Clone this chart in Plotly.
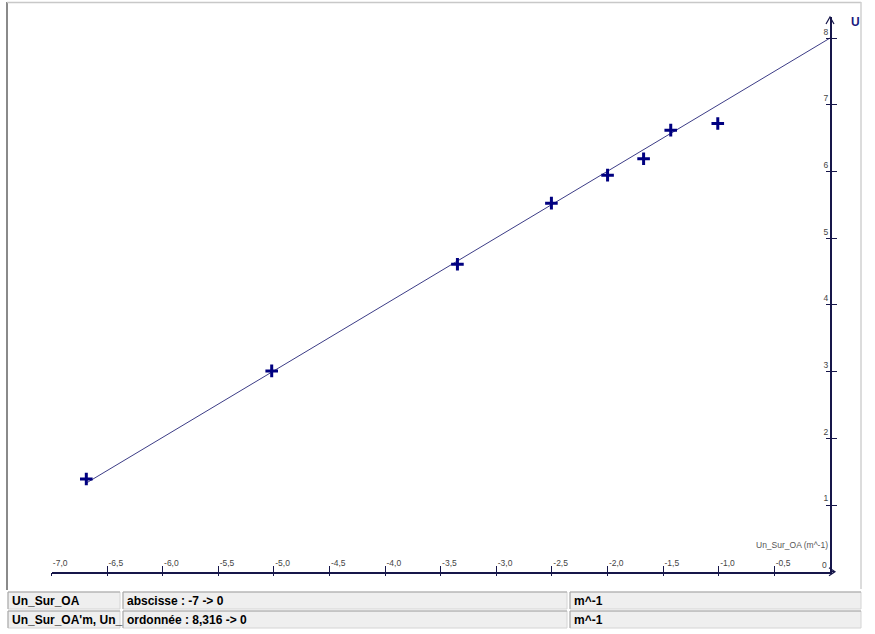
import plotly.graph_objects as go

# ---- data ----
x_vals = [-6.687, -5.02, -3.35, -2.505, -2.0, -1.676, -1.432, -1.009]
y_vals = [1.39, 3.01, 4.61, 5.525, 5.945, 6.19, 6.62, 6.72]
fit_slope = 0.9976
fit_intercept = 8.0
fit_x_end = 0.0

x_tick_vals = [-7.0, -6.5, -6.0, -5.5, -5.0, -4.5, -4.0, -3.5, -3.0, -2.5, -2.0, -1.5, -1.0, -0.5]
x_tick_text = ["-7,0", "-6,5", "-6,0", "-5,5", "-5,0", "-4,5", "-4,0", "-3,5", "-3,0", "-2,5", "-2,0", "-1,5", "-1,0", "-0,5"]
y_tick_vals = [0, 1, 2, 3, 4, 5, 6, 7, 8]
y_tick_text = ["0", "1", "2", "3", "4", "5", "6", "7", "8"]

x_range = [-7, 0]
y_range = [0, 8.316]

table_rows = [
    ["Un_Sur_OA", "abscisse : -7 -> 0", "m^-1"],
    ["Un_Sur_OA'm, Un_", "ordonnée : 8,316 -> 0", "m^-1"],
]

W, H = 875, 634
def px(x):
    return x / W
def py(y):
    return 1 - y / H

AXIS = "#16164a"
NAVY = "#000080"
FONT = "Liberation Sans, Arial, sans-serif"

fit_x = [min(x_vals), fit_x_end]
fit_y = [fit_intercept + fit_slope * v for v in fit_x]

fig = go.Figure()
fig.add_trace(go.Scatter(x=fit_x, y=fit_y, mode="lines",
                         line=dict(color="#3c3c86", width=1), hoverinfo="skip", showlegend=False))
fig.add_trace(go.Scatter(x=x_vals, y=y_vals, mode="markers",
                         marker=dict(symbol="cross-thin", size=9, line=dict(color=NAVY, width=3), color=NAVY),
                         showlegend=False))
# invisible trace to activate the secondary (tick-only) axes
fig.add_trace(go.Scatter(x=[None], y=[None], xaxis="x2", yaxis="y2", showlegend=False, hoverinfo="skip"))

X_LEFT, X_RIGHT = 51.5, 830
Y_BOTTOM, Y_TOP = 571.7, 17
xdom = [px(X_LEFT), px(X_RIGHT)]
ydom = [py(Y_BOTTOM), py(Y_TOP)]

fig.update_layout(
    width=W, height=H, margin=dict(l=0, r=0, t=0, b=0),
    paper_bgcolor="white", plot_bgcolor="white",
    font=dict(family=FONT),
    xaxis=dict(domain=xdom, range=x_range, showgrid=False, zeroline=False,
               showline=True, linecolor=AXIS, linewidth=1.5,
               tickmode="array", tickvals=x_tick_vals, ticktext=x_tick_text,
               ticks="inside", ticklen=6, tickwidth=1.2, tickcolor=AXIS,
               ticklabelposition="inside right",
               tickfont=dict(size=8.5, color="#444444", family=FONT),
               anchor="y", fixedrange=True),
    yaxis=dict(domain=ydom, range=y_range, side="right", showgrid=False, zeroline=False,
               showline=True, linecolor=AXIS, linewidth=1.5,
               tickmode="array", tickvals=y_tick_vals[1:], ticktext=y_tick_text[1:],
               ticks="outside", ticklen=5, tickwidth=1.2, tickcolor=AXIS,
               ticklabelposition="inside top",
               tickfont=dict(size=8.5, color="#444444", family=FONT),
               anchor="x", fixedrange=True),
    xaxis2=dict(domain=xdom, range=x_range, overlaying="x", anchor="y2", showgrid=False,
                zeroline=False, showline=False, showticklabels=False,
                tickmode="array", tickvals=x_tick_vals, ticks="outside", ticklen=3,
                tickwidth=1.2, tickcolor=AXIS, fixedrange=True),
    yaxis2=dict(domain=ydom, range=y_range, overlaying="y", anchor="x2", side="right",
                showgrid=False, zeroline=False, showline=False, showticklabels=False,
                tickmode="array", tickvals=y_tick_vals[1:], ticks="inside", ticklen=4,
                tickwidth=1.2, tickcolor=AXIS, fixedrange=True),
    showlegend=False,
)

shapes = []
# axis arrow heads (pixel-sized, anchored on axis ends, paper refs so not clipped)
shapes.append(dict(type="path", xref="paper", yref="paper", xsizemode="pixel", ysizemode="pixel",
                   xanchor=px(X_RIGHT), yanchor=py(Y_TOP),
                   path="M -4,-7 L 0,0 L 4,-7", line=dict(color=AXIS, width=1.2)))
shapes.append(dict(type="path", xref="paper", yref="paper", xsizemode="pixel", ysizemode="pixel",
                   xanchor=px(X_RIGHT), yanchor=py(Y_BOTTOM),
                   path="M 0,0 L 5,0 M -1,4 L 5,0 L -1,-4", line=dict(color=AXIS, width=1.2)))
# outer frame
shapes.append(dict(type="line", xref="paper", yref="paper", x0=px(7), x1=px(7), y0=py(2), y1=py(590),
                   line=dict(color="#8a8a8a", width=2)))
shapes.append(dict(type="line", xref="paper", yref="paper", x0=px(7), x1=px(861), y0=py(2.5), y1=py(2.5),
                   line=dict(color="#c8c8c8", width=1.5)))
shapes.append(dict(type="line", xref="paper", yref="paper", x0=px(861), x1=px(861), y0=py(2), y1=py(589),
                   line=dict(color="#d0d0d0", width=1.5)))

annotations = []
# table
col_edges = [(8, 120), (123, 567), (570, 861)]
row_edges = [(592, 609), (611, 628)]
for r, (y0, y1) in enumerate(row_edges):
    for c, (x0, x1) in enumerate(col_edges):
        shapes.append(dict(type="rect", xref="paper", yref="paper",
                           x0=px(x0), x1=px(x1), y0=py(y1), y1=py(y0),
                           fillcolor="#efefef", line=dict(color="#d4d4d4", width=1), layer="below"))
        shapes.append(dict(type="path", xref="paper", yref="paper",
                           path=f"M {px(x0)},{py(y1)} L {px(x0)},{py(y0)} L {px(x1)},{py(y0)}",
                           line=dict(color="#a8a8a8", width=1)))
        annotations.append(dict(xref="paper", yref="paper", x=px(x0 + 2), y=py((y0 + y1) / 2 + 0.5),
                                text="<b>" + table_rows[r][c] + "</b>", showarrow=False,
                                xanchor="left", yanchor="middle",
                                font=dict(size=12, color="black", family=FONT)))

# origin label (shared "0" at the axes corner)
annotations.append(dict(xref="x", yref="y", x=0, y=0, text=y_tick_text[0], showarrow=False,
                        xanchor="right", yanchor="bottom", xshift=-1, yshift=0,
                        font=dict(size=8.5, color="#444444", family=FONT)))
# axis titles
annotations.append(dict(xref="paper", yref="paper", x=px(849), y=py(22), text="<b>U</b>",
                        showarrow=False, xanchor="left", yanchor="middle",
                        font=dict(size=12, color="#1a1a80", family=FONT)))
annotations.append(dict(xref="paper", yref="paper", x=px(830), y=py(545), text="Un_Sur_OA (m^-1)",
                        showarrow=False, xanchor="right", yanchor="middle",
                        font=dict(size=8.5, color="#555555", family=FONT)))

fig.update_layout(shapes=shapes, annotations=annotations)
fig.write_html("out.html", config={"displayModeBar": False},
               post_script="document.body.style.margin='0';")
